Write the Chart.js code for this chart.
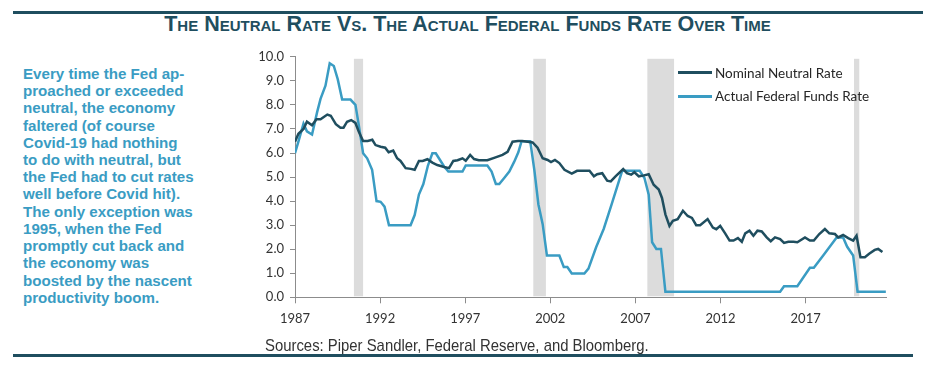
<!DOCTYPE html>
<html>
<head>
<meta charset="utf-8">
<script src="https://cdn.jsdelivr.net/npm/chart.js@4.4.1/dist/chart.umd.min.js"></script>
<style>
  body { margin: 0; width: 935px; height: 373px; background: #fff; position: relative; overflow: hidden; font-family: "Liberation Sans", Arial, sans-serif; }
  .rule { position: absolute; left: 13px; width: 910px; height: 3px; background: #1f4e5f; }
  #title { position: absolute; left: 0; width: 935px; top: 12px; text-align: center; font-family: "Liberation Sans", sans-serif; font-weight: bold; font-variant: small-caps; font-size: 21.5px; line-height: 24px; color: #1f4e5f; white-space: nowrap; }
  #note { position: absolute; left: 23px; top: 65.8px; font-weight: bold; font-size: 14px; line-height: 17.23px; color: #3a9cc3; white-space: nowrap; transform: scaleX(1.08); transform-origin: 0 0; }
  #wrap { position: absolute; left: 215px; top: 43px; width: 690px; height: 300px; }
  #legend { position: absolute; left: 678px; top: 61px; font-family: Lato, sans-serif; font-size: 13.5px; color: #262626; }
  #legend div { height: 23.5px; display: flex; align-items: center; }
  #legend span.sw { display: inline-block; width: 34px; height: 3px; margin-right: 3px; }
  #source { position: absolute; left: 265px; top: 337px; font-size: 17px; line-height: 17px; color: #333; white-space: nowrap; transform: scaleX(0.875); transform-origin: 0 0; }
</style>
</head>
<body>
<div class="rule" style="top:11px"></div>
<div id="title">The Neutral Rate Vs. The Actual Federal Funds Rate Over Time</div>
<div id="note">Every time the Fed ap-<br>proached or exceeded<br>neutral, the economy<br>faltered (of course<br>Covid-19 had nothing<br>to do with neutral, but<br>the Fed had to cut rates<br>well before Covid hit).<br>The only exception was<br>1995, when the Fed<br>promptly cut back and<br>the economy was<br>boosted by the nascent<br>productivity boom.</div>
<div id="wrap"><canvas id="chart"></canvas></div>
<div id="legend">
  <div><span class="sw" style="background:#1f4e5f"></span>Nominal Neutral Rate</div>
  <div><span class="sw" style="background:#3a9cc3"></span>Actual Federal Funds Rate</div>
</div>
<div id="source">Sources: Piper Sandler, Federal Reserve, and Bloomberg.</div>
<div class="rule" style="top:354px; width:900px"></div>

<script>
const neutralYears = [1987.0, 1987.2, 1987.5, 1987.7, 1988.0, 1988.26, 1988.5, 1988.9, 1989.1, 1989.4, 1989.67, 1989.85,
  1990.06, 1990.3, 1990.55, 1990.75, 1991.0, 1991.27, 1991.54, 1991.73, 1992.03, 1992.3, 1992.5, 1992.77,
  1993.0, 1993.2, 1993.5, 1993.8, 1994.03, 1994.28, 1994.5, 1994.78, 1995.07, 1995.36, 1995.76, 1996.05,
  1996.3, 1996.55, 1996.84, 1997.03, 1997.29, 1997.52, 1997.8, 1998.3, 1998.7, 1999.19, 1999.49, 1999.78,
  2000.1, 2000.35, 2000.67, 2000.96, 2001.25, 2001.55, 2001.84, 2002.04, 2002.27, 2002.53, 2002.83, 2003.26,
  2003.57, 2003.9, 2004.3, 2004.56, 2004.75, 2005.05, 2005.34, 2005.55, 2005.83, 2006.28, 2006.5, 2006.75,
  2006.94, 2007.2, 2007.5, 2007.78, 2008.07, 2008.37, 2008.56, 2008.76, 2009.0, 2009.2, 2009.48, 2009.79,
  2010.07, 2010.32, 2010.57, 2010.8, 2011.24, 2011.55, 2011.75, 2011.98, 2012.27, 2012.53, 2012.76, 2013.02,
  2013.25, 2013.45, 2013.7, 2013.93, 2014.17, 2014.42, 2014.71, 2014.95, 2015.2, 2015.5, 2015.73, 2015.98,
  2016.28, 2016.51, 2016.96, 2017.25, 2017.48, 2017.8, 2018.13, 2018.39, 2018.72, 2018.91, 2019.2, 2019.5,
  2019.79, 2019.99, 2020.22, 2020.48, 2020.73, 2021.06, 2021.26, 2021.51];
const neutralRates = [6.47, 6.8, 7.0, 7.3, 7.15, 7.4, 7.4, 7.6, 7.55, 7.2, 7.05, 7.05,
  7.3, 7.37, 7.25, 6.88, 6.5, 6.5, 6.55, 6.33, 6.26, 6.22, 6.03, 6.1,
  5.78, 5.67, 5.37, 5.34, 5.3, 5.67, 5.67, 5.74, 5.6, 5.5, 5.42, 5.37,
  5.67, 5.7, 5.78, 5.68, 5.92, 5.75, 5.7, 5.7, 5.8, 5.92, 6.05, 6.47,
  6.5, 6.5, 6.47, 6.44, 6.22, 5.78, 5.71, 5.62, 5.71, 5.58, 5.3, 5.14,
  5.26, 5.26, 5.26, 5.03, 5.12, 5.16, 4.85, 4.82, 5.03, 5.33, 5.16, 5.1,
  5.2, 5.03, 5.07, 5.12, 4.68, 4.48, 4.13, 3.45, 2.97, 3.18, 3.25, 3.6,
  3.38, 3.3, 3.0, 3.0, 3.25, 2.9, 2.83, 2.97, 2.66, 2.36, 2.36, 2.46,
  2.31, 2.66, 2.77, 2.56, 2.77, 2.74, 2.49, 2.33, 2.49, 2.42, 2.26, 2.31,
  2.31, 2.29, 2.49, 2.36, 2.36, 2.63, 2.84, 2.66, 2.63, 2.49, 2.59, 2.46,
  2.36, 2.56, 1.67, 1.67, 1.81, 1.97, 2.01, 1.88];

const actualYears = [1987.0, 1987.2, 1987.5, 1987.7, 1988.0, 1988.3, 1988.5, 1988.79, 1989.04, 1989.28, 1989.51, 1989.77,
  1990.26, 1990.55, 1990.75, 1991.0, 1991.24, 1991.53, 1991.79, 1992.03, 1992.26, 1992.52, 1993.79, 1994.03,
  1994.28, 1994.54, 1994.81, 1995.07, 1995.27, 1995.52, 1995.76, 1996.01, 1996.84, 1997.03, 1998.3, 1998.55,
  1998.8, 1999.0, 1999.29, 1999.59, 1999.88, 2000.12, 2000.31, 2000.82, 2001.06, 2001.3, 2001.55, 2001.8,
  2002.53, 2002.79, 2003.0, 2003.26, 2004.0, 2004.24, 2004.69, 2005.14, 2005.6, 2006.22, 2007.25, 2007.53,
  2007.78, 2007.98, 2008.23, 2008.5, 2008.76, 2015.5, 2015.73, 2016.51, 2017.25, 2017.48, 2018.03, 2018.82,
  2019.2, 2019.44, 2019.79, 2020.05, 2021.71];
const actualRates = [5.99, 6.47, 7.22, 6.9, 6.77, 7.7, 8.25, 8.8, 9.73, 9.62, 9.07, 8.22,
  8.22, 8.0, 7.15, 5.99, 5.78, 5.3, 4.0, 3.97, 3.77, 3.0, 3.0, 3.42,
  4.27, 4.71, 5.48, 5.99, 5.99, 5.71, 5.44, 5.23, 5.23, 5.48, 5.48, 5.23,
  4.71, 4.71, 4.96, 5.23, 5.64, 6.03, 6.49, 6.49, 5.3, 3.86, 3.04, 1.74,
  1.74, 1.26, 1.26, 0.99, 0.99, 1.19, 2.08, 2.85, 3.86, 5.26, 5.26, 4.96,
  4.27, 2.29, 2.01, 2.01, 0.23, 0.23, 0.46, 0.46, 1.23, 1.23, 1.74, 2.49,
  2.49, 2.1, 1.74, 0.23, 0.23];

const recessionStart = [1990.46, 2001.0, 2007.7, 2019.84];
const recessionEnd = [1991.0, 2001.74, 2009.27, 2020.15];

const xTickYears = [1987, 1992, 1997, 2002, 2007, 2012, 2017];
const yTickValues = [0, 1, 2, 3, 4, 5, 6, 7, 8, 9, 10];

const tickFont = { family: 'Lato, sans-serif', size: 13 };
const axisColor = '#8c8c8c';

const recessionBands = {
  id: 'recessionBands',
  beforeDatasetsDraw(chart) {
    const { ctx, chartArea, scales: { x } } = chart;
    ctx.save();
    ctx.fillStyle = '#dcdcdc';
    recessionStart.forEach((s, i) => {
      const x1 = x.getPixelForValue(s);
      const x2 = x.getPixelForValue(recessionEnd[i]);
      ctx.fillRect(x1, chartArea.top + 2, x2 - x1, chartArea.bottom - chartArea.top - 3);
    });
    ctx.restore();
  }
};

const ctx = document.getElementById('chart');
new Chart(ctx, {
  type: 'line',
  data: {
    datasets: [{
      label: 'Nominal Neutral Rate',
      data: neutralYears.map((yr, i) => ({ x: yr, y: neutralRates[i] })),
      borderColor: '#1f4e5f',
      borderWidth: 2.5,
      pointRadius: 0,
      tension: 0
    }, {
      label: 'Actual Federal Funds Rate',
      data: actualYears.map((yr, i) => ({ x: yr, y: actualRates[i] })),
      borderColor: '#3a9cc3',
      borderWidth: 2.5,
      pointRadius: 0,
      tension: 0
    }]
  },
  options: {
    responsive: true,
    maintainAspectRatio: false,
    animation: false,
    layout: { padding: { top: 10, right: 19, left: 0, bottom: 0 } },
    scales: {
      x: {
        type: 'linear',
        min: 1987,
        max: 2021.72,
        afterBuildTicks: (scale) => { scale.ticks = xTickYears.map(v => ({ value: v })); },
        afterFit: (scale) => { scale.height = 45.7; },
        ticks: { font: tickFont, color: '#333', padding: 8, maxRotation: 0, callback: (v) => String(v) },
        grid: { drawOnChartArea: false, tickLength: 6, color: axisColor },
        border: { color: axisColor, width: 1 }
      },
      y: {
        min: 0,
        max: 10,
        afterBuildTicks: (scale) => { scale.ticks = yTickValues.map(v => ({ value: v })); },
        afterFit: (scale) => { scale.width = 80; },
        ticks: { font: tickFont, color: '#333', padding: 6, callback: (v) => v.toFixed(1) },
        grid: { drawOnChartArea: false, tickLength: 5, color: axisColor },
        border: { color: axisColor, width: 1 }
      }
    },
    plugins: {
      legend: { display: false },
      tooltip: { enabled: false }
    }
  },
  plugins: [recessionBands]
});
</script>
</body>
</html>
